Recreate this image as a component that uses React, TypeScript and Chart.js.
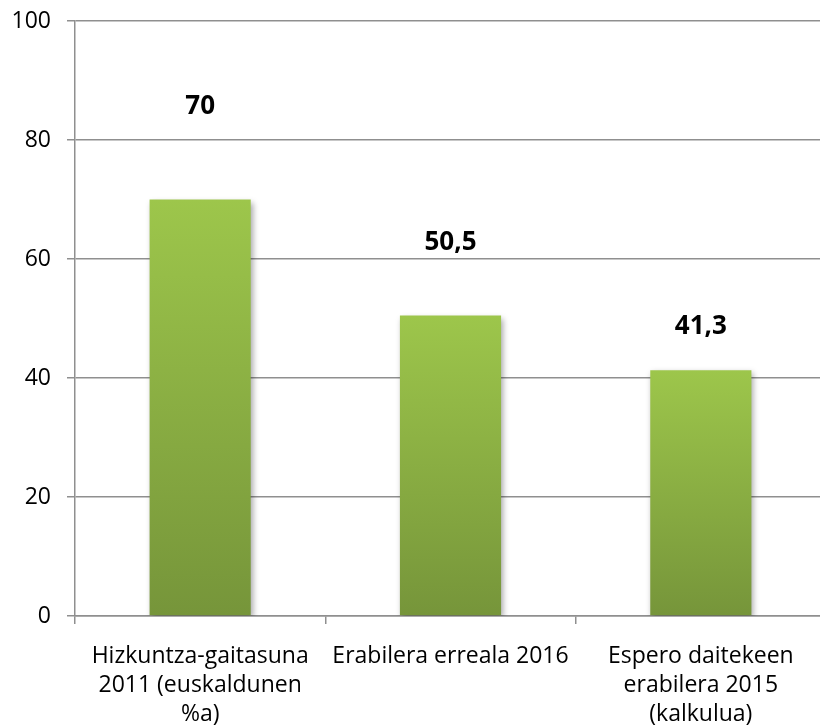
import React, { useEffect, useRef } from "react";
import { Chart, registerables } from "chart.js";

Chart.register(...registerables);

const categories: (string | string[])[] = [
  ["Hizkuntza-gaitasuna", "2011 (euskaldunen", "%a)"],
  "Erabilera erreala 2016",
  ["Espero daitekeen", "erabilera 2015", "(kalkulua)"],
];
const values = [70, 50.5, 41.3];
const valueLabels = ["70", "50,5", "41,3"];
const labelOffsets = [93, 73, 44];
const yMin = 0;
const yMax = 100;
const yStep = 20;

const FONT = "'Open Sans', Lato, sans-serif";

export default function App() {
  const ref = useRef<HTMLCanvasElement>(null);
  useEffect(() => {
    document.body.style.margin = "0";
    const canvas = ref.current!;
    const labelPlugin = {
      id: "valLabels",
      afterDatasetsDraw(chart: any) {
        const ctx = chart.ctx;
        const meta = chart.getDatasetMeta(0);
        ctx.save();
        ctx.font = `bold 26px ${FONT}`;
        ctx.fillStyle = "#000";
        ctx.textAlign = "center";
        ctx.textBaseline = "middle";
        meta.data.forEach((el: any, i: number) => {
          ctx.fillText(valueLabels[i], el.x, el.y - labelOffsets[i]);
        });
        ctx.restore();
      },
    };
    const shadowPlugin = {
      id: "barShadow",
      beforeDatasetDraw(chart: any) {
        const ctx = chart.ctx;
        ctx.save();
        ctx.shadowColor = "rgba(0,0,0,0.35)";
        ctx.shadowBlur = 6;
        ctx.shadowOffsetX = 2;
        ctx.shadowOffsetY = 3;
      },
      afterDatasetDraw(chart: any) {
        chart.ctx.restore();
      },
    };
    const chart = new Chart(canvas, {
      type: "bar",
      data: {
        labels: categories,
        datasets: [
          {
            data: values,
            backgroundColor: (c: any) => {
              const chart = c.chart;
              const ys = chart.scales?.y;
              if (!ys || c.dataIndex === undefined) return "#8DB344";
              const top = ys.getPixelForValue(values[c.dataIndex]);
              const bottom = ys.getPixelForValue(0);
              if (!isFinite(top) || !isFinite(bottom) || top === bottom) return "#8DB344";
              const g = chart.ctx.createLinearGradient(0, top, 0, bottom);
              g.addColorStop(0, "#9DC64B");
              g.addColorStop(1, "#76953A");
              return g;
            },
            borderWidth: 0,
            barPercentage: 0.404,
            categoryPercentage: 1,
          },
        ],
      },
      options: {
        animation: false,
        responsive: false,
        maintainAspectRatio: false,
        layout: { padding: { top: 21, right: 0, left: 0, bottom: 0 } },
        plugins: { legend: { display: false }, tooltip: { enabled: false } },
        scales: {
          x: {
            grid: {
              display: true,
              drawOnChartArea: false,
              drawTicks: true,
              tickLength: 8,
              color: "#8f8f8f",
              lineWidth: 1.5,
            },
            border: { color: "#8f8f8f", width: 1.5 },
            ticks: {
              color: "#000",
              font: { family: FONT, size: 23, lineHeight: 1.26 },
              padding: 18,
              maxRotation: 0,
              autoSkip: false,
            },
            afterFit: (s: any) => {
              s.height = 111;
              s.paddingLeft = 0;
              s.paddingRight = 0;
            },
          },
          y: {
            min: yMin,
            max: yMax,
            ticks: {
              stepSize: yStep,
              color: "#000",
              font: { family: FONT, size: 23 },
              padding: 16,
            },
            grid: { color: "#8f8f8f", lineWidth: 1.5, tickLength: 8 },
            border: { color: "#8f8f8f", width: 1.5 },
            afterFit: (s: any) => {
              s.width = 75;
              s.paddingTop = 0;
              s.paddingBottom = 0;
            },
          },
        },
      },
      plugins: [shadowPlugin, labelPlugin],
    } as any);
    return () => chart.destroy();
  }, []);
  return (
    <div style={{ width: 820, height: 727, overflow: "hidden", background: "#fff" }}>
      <canvas ref={ref} width={826} height={727} style={{ display: "block" }} />
    </div>
  );
}
